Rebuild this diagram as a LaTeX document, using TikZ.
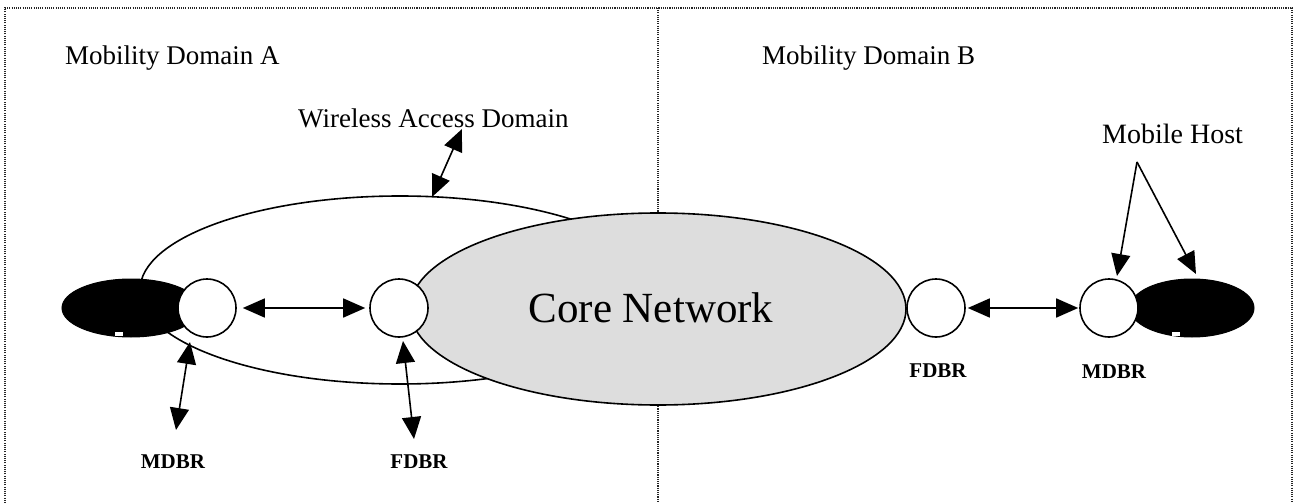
\documentclass[tikz,border=0pt]{standalone}
\usepackage{fontspec}
\setmainfont{Liberation Serif}
\usetikzlibrary{shapes.geometric,arrows.meta}
\definecolor{coregray}{RGB}{221,221,221}
\begin{document}
\begin{tikzpicture}[x=1pt,y=-1pt,
  frame/.style={black!85,line width=1.1pt,dash pattern=on 1.1pt off 1.1pt},
  oval/.style={ellipse,draw,line width=1.6pt,inner sep=0pt},
  router/.style={circle,draw,fill=white,line width=1.6pt,minimum size=58pt,inner sep=0pt},
  host/.style={ellipse,draw,fill=black,line width=1pt,inner sep=0pt,minimum height=58pt},
  biarrow/.style={line width=1.6pt,{Triangle[length=22pt,width=19pt]}-{Triangle[length=22pt,width=19pt]}},
  onearrow/.style={line width=1.6pt,-{Triangle[length=22pt,width=19pt]}},
  lbl/.style={font=\fontsize{27}{32}\selectfont,anchor=base west,inner sep=0pt},
  rlbl/.style={font=\fontsize{21}{25}\selectfont\bfseries,anchor=base,inner sep=0pt}
]
\useasboundingbox (0,0) rectangle (1294,503);
% frame and divider
\draw[frame] (5,503) -- (5,8) -- (1292,8) -- (1292,503);
\draw[frame] (658,8) -- (658,503);
% domains
\node[oval, minimum width=520pt, minimum height=188pt] (wad) at (400,290) {};
\node[oval, fill=coregray, minimum width=496pt, minimum height=192pt] (core) at (658,309) {};
\node[font=\fontsize{43}{50}\selectfont, anchor=base, inner sep=0pt] (corelbl) at (651,322) {Core Network};
% hosts
\node[host, minimum width=138pt] (hostA) at (131,308) {};
\node[host, minimum width=124pt] (hostB) at (1192,308) {};
\fill[white] (115,332) rectangle (123,336);
\fill[white] (1172,332) rectangle (1180,336);
% routers
\node[router] (mA) at (207,308) {};
\node[router] (fA) at (399,308) {};
\node[router] (fB) at (936,308) {};
\node[router] (mB) at (1109,308) {};
% router links
\draw[biarrow, shorten <=6pt, shorten >=4pt] (mA) -- (fA);
\draw[biarrow, shorten <=2pt, shorten >=1pt] (fB) -- (mB);
% label arrows
\coordinate (mAup) at (190,342);
\coordinate (mAlow) at (176,430);
\coordinate (fAup) at (403,341);
\coordinate (fAlow) at (414,439);
\coordinate (wadtip) at (432,197);
\coordinate (wadtop) at (462,129);
\coordinate (mhapex) at (1137,162);
\coordinate (mhA) at (1117,276);
\coordinate (mhB) at (1196,274);
\draw[biarrow] (mAup) -- (mAlow);
\draw[biarrow] (fAup) -- (fAlow);
\draw[biarrow] (wadtip) -- (wadtop);
\draw[onearrow] (mhapex) -- (mhA);
\draw[onearrow] (mhapex) -- (mhB);
% texts
\node[lbl] (domA) at (65,65) {Mobility Domain A};
\node[lbl] (domB) at (762,65) {Mobility Domain B};
\node[lbl] (wadl) at (298,127) {Wireless Access Domain};
\node[lbl, font=\fontsize{28}{32}\selectfont] (mhl) at (1102,143) {Mobile Host};
\node[rlbl] (mAl) at (173,468) {MDBR};
\node[rlbl] (fAl) at (419,468) {FDBR};
\node[rlbl] (fBl) at (938,377) {FDBR};
\node[rlbl] (mBl) at (1114,378) {MDBR};
\end{tikzpicture}
\end{document}
